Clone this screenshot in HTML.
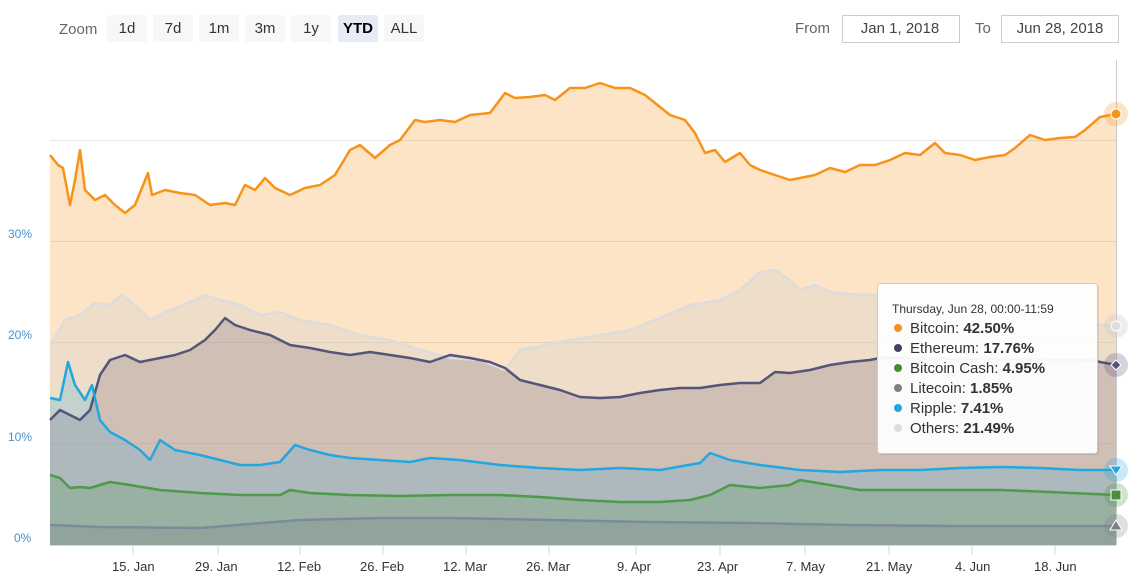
<!DOCTYPE html>
<html><head><meta charset="utf-8"><style>
body{margin:0;background:#fff;font-family:"Liberation Sans","DejaVu Sans",sans-serif;}
svg{display:block}
</style></head><body>
<svg width="1130" height="584" viewBox="0 0 1130 584" xmlns="http://www.w3.org/2000/svg" font-family="Liberation Sans, DejaVu Sans, sans-serif">
<rect width="1130" height="584" fill="#fff"/>
<!-- range selector -->
<text x="59" y="34" font-size="15" fill="#666">Zoom</text>
<g font-size="15" fill="#333" text-anchor="middle">
<rect x="107" y="15" width="40" height="27" rx="2" fill="#f7f7f7"/><text x="127" y="33">1d</text>
<rect x="153" y="15" width="40" height="27" rx="2" fill="#f7f7f7"/><text x="173" y="33">7d</text>
<rect x="199" y="15" width="40" height="27" rx="2" fill="#f7f7f7"/><text x="219" y="33">1m</text>
<rect x="245" y="15" width="40" height="27" rx="2" fill="#f7f7f7"/><text x="265" y="33">3m</text>
<rect x="291" y="15" width="40" height="27" rx="2" fill="#f7f7f7"/><text x="311" y="33">1y</text>
<rect x="338" y="15" width="40" height="27" rx="2" fill="#e6ebf5"/><text x="358" y="33" font-weight="bold" fill="#000">YTD</text>
<rect x="384" y="15" width="40" height="27" rx="2" fill="#f7f7f7"/><text x="404" y="33">ALL</text>
</g>
<text x="795" y="33" font-size="15" fill="#666">From</text>
<rect x="842.5" y="15.5" width="117" height="27" fill="#fff" stroke="#ccc"/>
<text x="900" y="33" font-size="15" fill="#444" text-anchor="middle">Jan 1, 2018</text>
<text x="975" y="33" font-size="15" fill="#666">To</text>
<rect x="1001.5" y="15.5" width="117" height="27" fill="#fff" stroke="#ccc"/>
<text x="1060" y="33" font-size="15" fill="#444" text-anchor="middle">Jun 28, 2018</text>
<!-- grid -->
<g stroke="#e6e6e6" stroke-width="1">
<line x1="50" x2="1116" y1="241.5" y2="241.5"/>
<line x1="50" x2="1116" y1="342.5" y2="342.5"/>
<line x1="50" x2="1116" y1="443.5" y2="443.5"/>
<line x1="50" x2="1116" y1="140.5" y2="140.5"/>
</g>
<g font-size="12" fill="#4a90c8">
<text x="8" y="238">30%</text>
<text x="8" y="339">20%</text>
<text x="8" y="441">10%</text>
<text x="14" y="542">0%</text>
</g>
<!-- Bitcoin -->
<polygon fill="#f7931a" fill-opacity="0.25" points="50,545 50,155 58,165 63,168 70,205 75,180 80,150 85,190 95,200 105,195 115,205 125,213 135,205 148,173 152,195 165,190 180,193 195,195 210,205 225,203 235,205 245,185 255,190 265,178 275,188 290,195 305,188 320,185 335,175 350,150 360,145 375,158 390,145 400,140 415,120 425,122 440,120 455,122 470,115 490,113 505,93 515,98 530,97 545,95 555,100 570,88 585,88 600,83 615,88 630,88 645,95 655,103 670,115 685,120 695,133 705,153 715,150 725,162 740,153 750,165 760,170 775,175 790,180 800,178 815,175 830,168 845,172 860,165 875,165 890,160 905,153 920,155 935,143 945,153 960,155 975,160 990,157 1005,155 1015,148 1030,135 1045,140 1060,138 1075,137 1085,130 1100,117 1116,114 1116,545"/>
<!-- Others -->
<polygon fill="#cccccc" fill-opacity="0.3" points="50,545 50,345 65,320 80,315 95,303 110,305 122,295 135,305 150,320 170,310 190,302 205,295 220,300 240,305 260,315 280,312 300,320 330,325 360,335 390,340 420,350 450,358 480,360 505,370 520,350 545,345 570,340 600,335 630,330 660,318 690,305 720,300 740,290 760,272 775,270 790,280 800,290 815,285 830,292 860,295 880,295 950,300 1000,305 1050,310 1090,320 1100,325 1116,326 1116,545"/>
<!-- Ethereum -->
<polygon fill="#5a4a6a" fill-opacity="0.2" points="50,545 50,420 60,410 70,415 80,420 90,410 100,375 110,360 125,355 140,362 160,358 175,355 190,350 205,340 215,330 225,318 235,325 250,330 270,335 290,345 310,348 330,352 350,355 370,352 390,355 410,358 430,362 450,355 470,358 490,362 505,368 520,380 540,385 560,390 580,397 600,398 620,397 640,393 660,390 680,388 700,388 720,385 740,383 760,383 775,372 790,373 810,370 830,365 850,362 870,360 880,358 1090,360 1116,365 1116,545"/>
<!-- Ripple -->
<polygon fill="#23a7e0" fill-opacity="0.2" points="50,545 50,398 60,400 68,362 75,385 85,400 92,385 100,420 110,432 125,440 140,450 150,460 160,440 175,450 200,455 220,460 240,465 260,465 280,462 295,445 310,450 330,455 350,458 380,460 410,462 430,458 460,460 500,465 540,468 580,470 620,468 660,470 700,463 710,453 730,460 760,465 800,470 840,472 880,470 920,470 960,468 1000,467 1040,468 1080,470 1116,470 1116,545"/>
<!-- BCH -->
<polygon fill="#478f3c" fill-opacity="0.2" points="50,545 50,475 60,478 70,488 80,487 90,488 110,482 130,485 160,490 200,493 240,495 280,495 290,490 310,493 350,495 400,496 450,495 500,495 540,497 580,500 620,502 660,502 690,500 710,495 730,485 760,488 790,485 800,480 830,485 860,490 900,490 950,490 1000,490 1050,492 1116,495 1116,545"/>
<!-- Litecoin -->
<polygon fill="#7b8089" fill-opacity="0.25" points="50,545 50,525 100,527 200,528 300,520 380,518 450,518 550,520 650,522 750,523 850,525 950,526 1050,526 1116,526 1116,545"/>
<!-- lines -->
<g fill="none" stroke-width="2.5" stroke-linejoin="round">
<polyline stroke="#f7931a" points="50,155 58,165 63,168 70,205 75,180 80,150 85,190 95,200 105,195 115,205 125,213 135,205 148,173 152,195 165,190 180,193 195,195 210,205 225,203 235,205 245,185 255,190 265,178 275,188 290,195 305,188 320,185 335,175 350,150 360,145 375,158 390,145 400,140 415,120 425,122 440,120 455,122 470,115 490,113 505,93 515,98 530,97 545,95 555,100 570,88 585,88 600,83 615,88 630,88 645,95 655,103 670,115 685,120 695,133 705,153 715,150 725,162 740,153 750,165 760,170 775,175 790,180 800,178 815,175 830,168 845,172 860,165 875,165 890,160 905,153 920,155 935,143 945,153 960,155 975,160 990,157 1005,155 1015,148 1030,135 1045,140 1060,138 1075,137 1085,130 1100,117 1116,114"/>
<polyline stroke="#dcdcdc" points="50,345 65,320 80,315 95,303 110,305 122,295 135,305 150,320 170,310 190,302 205,295 220,300 240,305 260,315 280,312 300,320 330,325 360,335 390,340 420,350 450,358 480,360 505,370 520,350 545,345 570,340 600,335 630,330 660,318 690,305 720,300 740,290 760,272 775,270 790,280 800,290 815,285 830,292 860,295 880,295 950,300 1000,305 1050,310 1090,320 1100,325 1116,326"/>
<polyline stroke="#55557a" points="50,420 60,410 70,415 80,420 90,410 100,375 110,360 125,355 140,362 160,358 175,355 190,350 205,340 215,330 225,318 235,325 250,330 270,335 290,345 310,348 330,352 350,355 370,352 390,355 410,358 430,362 450,355 470,358 490,362 505,368 520,380 540,385 560,390 580,397 600,398 620,397 640,393 660,390 680,388 700,388 720,385 740,383 760,383 775,372 790,373 810,370 830,365 850,362 870,360 880,358 1090,360 1116,365"/>
<polyline stroke="#23a7e0" points="50,398 60,400 68,362 75,385 85,400 92,385 100,420 110,432 125,440 140,450 150,460 160,440 175,450 200,455 220,460 240,465 260,465 280,462 295,445 310,450 330,455 350,458 380,460 410,462 430,458 460,460 500,465 540,468 580,470 620,468 660,470 700,463 710,453 730,460 760,465 800,470 840,472 880,470 920,470 960,468 1000,467 1040,468 1080,470 1116,470"/>
<polyline stroke="#4f9a4a" points="50,475 60,478 70,488 80,487 90,488 110,482 130,485 160,490 200,493 240,495 280,495 290,490 310,493 350,495 400,496 450,495 500,495 540,497 580,500 620,502 660,502 690,500 710,495 730,485 760,488 790,485 800,480 830,485 860,490 900,490 950,490 1000,490 1050,492 1116,495"/>
<polyline stroke="#7f8a98" points="50,525 100,527 200,528 300,520 380,518 450,518 550,520 650,522 750,523 850,525 950,526 1050,526 1116,526"/>
</g>
<!-- crosshair -->
<line x1="1116.5" x2="1116.5" y1="60" y2="545" stroke="#ccc"/>
<!-- x axis -->
<line x1="50" x2="1116" y1="545.5" y2="545.5" stroke="#ccd6eb"/>
<g stroke="#ccd6eb">
<line x1="133" x2="133" y1="545" y2="555"/><line x1="218" x2="218" y1="545" y2="555"/><line x1="300" x2="300" y1="545" y2="555"/><line x1="383" x2="383" y1="545" y2="555"/><line x1="466" x2="466" y1="545" y2="555"/><line x1="549" x2="549" y1="545" y2="555"/><line x1="636" x2="636" y1="545" y2="555"/><line x1="720" x2="720" y1="545" y2="555"/><line x1="805" x2="805" y1="545" y2="555"/><line x1="889" x2="889" y1="545" y2="555"/><line x1="972" x2="972" y1="545" y2="555"/><line x1="1055" x2="1055" y1="545" y2="555"/>
</g>
<g font-size="13" fill="#333">
<text x="112" y="571">15. Jan</text><text x="195" y="571">29. Jan</text><text x="277" y="571">12. Feb</text><text x="360" y="571">26. Feb</text><text x="443" y="571">12. Mar</text><text x="526" y="571">26. Mar</text><text x="617" y="571">9. Apr</text><text x="697" y="571">23. Apr</text><text x="786" y="571">7. May</text><text x="866" y="571">21. May</text><text x="955" y="571">4. Jun</text><text x="1034" y="571">18. Jun</text>
</g>
<!-- markers -->
<circle cx="1116" cy="114" r="12" fill="#f7931a" fill-opacity="0.25"/><circle cx="1116" cy="114" r="5" fill="#f7931a" stroke="#fff"/>
<circle cx="1116" cy="326" r="12" fill="#ccc" fill-opacity="0.35"/><circle cx="1116" cy="326" r="5" fill="#ddd" stroke="#fff"/>
<circle cx="1116" cy="365" r="12" fill="#55557a" fill-opacity="0.25"/><polygon points="1116,360 1121,365 1116,370 1111,365" fill="#55557a" stroke="#fff"/>
<circle cx="1116" cy="470" r="12" fill="#23a7e0" fill-opacity="0.25"/><polygon points="1110,466 1122,466 1116,475" fill="#23a7e0" stroke="#fff"/>
<circle cx="1116" cy="495" r="12" fill="#478f3c" fill-opacity="0.25"/><rect x="1111" y="490" width="10" height="10" fill="#478f3c" stroke="#fff"/>
<circle cx="1116" cy="526" r="12" fill="#7b8089" fill-opacity="0.25"/><polygon points="1116,520 1122,530 1110,530" fill="#7b8089" stroke="#fff"/>
<!-- tooltip -->
<rect x="879" y="285" width="220" height="170" rx="3" fill="#000" fill-opacity="0.08"/>
<rect x="877.5" y="283.5" width="220" height="170" rx="3" fill="#fff" fill-opacity="0.95" stroke="#ccc"/>
<text x="892" y="313" font-size="12" fill="#333">Thursday, Jun 28, 00:00-11:59</text>
<g font-size="15" fill="#333">
<circle cx="898" cy="328" r="4" fill="#f7931a"/><text x="910" y="333">Bitcoin: <tspan font-weight="bold">42.50%</tspan></text>
<circle cx="898" cy="348" r="4" fill="#434368"/><text x="910" y="353">Ethereum: <tspan font-weight="bold">17.76%</tspan></text>
<circle cx="898" cy="368" r="4" fill="#3f8f2f"/><text x="910" y="373">Bitcoin Cash: <tspan font-weight="bold">4.95%</tspan></text>
<circle cx="898" cy="388" r="4" fill="#808080"/><text x="910" y="393">Litecoin: <tspan font-weight="bold">1.85%</tspan></text>
<circle cx="898" cy="408" r="4" fill="#1ca8e0"/><text x="910" y="413">Ripple: <tspan font-weight="bold">7.41%</tspan></text>
<circle cx="898" cy="428" r="4" fill="#dddddd"/><text x="910" y="433">Others: <tspan font-weight="bold">21.49%</tspan></text>
</g>
</svg>
</body></html>
